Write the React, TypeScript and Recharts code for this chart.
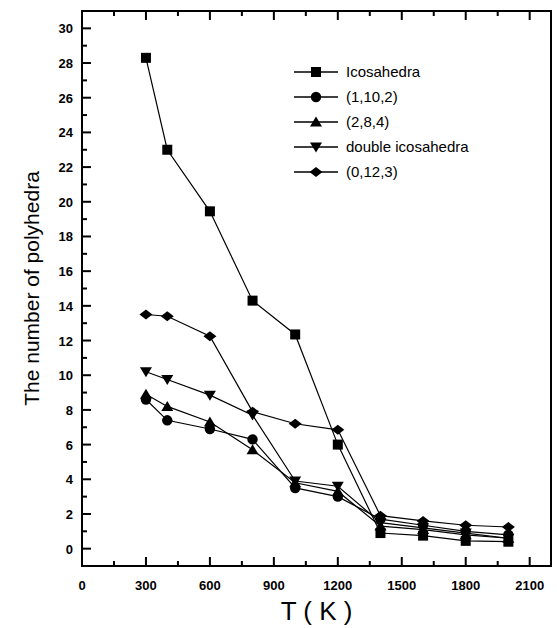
import React from "react";
import { LineChart, Line, XAxis, YAxis, Legend, ReferenceArea } from "recharts";

// temperature (K) and polyhedra counts
const temps = [300, 400, 600, 800, 1000, 1200, 1400, 1600, 1800, 2000];
const icosahedra = [28.3, 23.0, 19.45, 14.3, 12.35, 6.0, 0.9, 0.75, 0.45, 0.4];
const c1102 = [8.6, 7.4, 6.9, 6.3, 3.5, 3.0, 1.7, 1.35, 1.0, 0.8];
const c284 = [8.9, 8.2, 7.3, 5.7, 3.8, 3.3, 1.3, 1.1, 0.8, 0.6];
const doubleIco = [10.2, 9.75, 8.85, 7.7, 3.9, 3.6, 1.5, 1.2, 0.9, 0.6];
const c0123 = [13.5, 13.4, 12.25, 7.9, 7.2, 6.85, 1.9, 1.6, 1.35, 1.25];

const xTicks = [0, 150, 300, 450, 600, 750, 900, 1050, 1200, 1350, 1500, 1650, 1800, 1950, 2100];
const yTicks = Array.from({ length: 31 }, (_, i) => i);

const data = temps.map((t, i) => ({
  T: t,
  ico: icosahedra[i],
  a: c1102[i],
  b: c284[i],
  dbl: doubleIco[i],
  c: c0123[i],
}));

const FONT = '"Liberation Sans", Arial, sans-serif';

// the chart is drawn at half size and scaled up 2x as a whole
type Shape = "square" | "circle" | "up" | "down" | "diamond";

function Marker({ cx, cy, shape }: { cx: number; cy: number; shape: Shape }) {
  if (cx == null || cy == null) return null;
  if (shape === "square") return <rect x={cx - 2.5} y={cy - 2.5} width={5} height={5} fill="#000" />;
  if (shape === "circle") return <circle cx={cx} cy={cy} r={2.6} fill="#000" />;
  if (shape === "up")
    return <polygon points={`${cx - 3},${cy + 2.25} ${cx + 3},${cy + 2.25} ${cx},${cy - 2.75}`} fill="#000" />;
  if (shape === "down")
    return <polygon points={`${cx - 3},${cy - 2.25} ${cx + 3},${cy - 2.25} ${cx},${cy + 2.75}`} fill="#000" />;
  return <polygon points={`${cx - 3.25},${cy} ${cx},${cy - 2.5} ${cx + 3.25},${cy} ${cx},${cy + 2.5}`} fill="#000" />;
}

const dotFor = (shape: Shape) => (p: any) => <Marker key={p.index} cx={p.cx} cy={p.cy} shape={shape} />;

const series: { key: string; name: string; shape: Shape }[] = [
  { key: "ico", name: "Icosahedra", shape: "square" },
  { key: "a", name: "(1,10,2)", shape: "circle" },
  { key: "b", name: "(2,8,4)", shape: "up" },
  { key: "dbl", name: "double icosahedra", shape: "down" },
  { key: "c", name: "(0,12,3)", shape: "diamond" },
];

const bottomTick = (p: any) => {
  const major = p.payload.value % 300 === 0;
  return (
    <g key={p.index}>
      <line x1={p.x} y1={p.y} x2={p.x} y2={p.y - (major ? 4.5 : 2.5)} stroke="#000" strokeWidth={1} />
      {major && (
        <text x={p.x} y={p.y + 12} textAnchor="middle" fontSize={6.5} fontWeight="bold" fontFamily={FONT} fill="#000">
          {p.payload.value}
        </text>
      )}
    </g>
  );
};

const topTick = (p: any) => {
  const major = p.payload.value % 300 === 0;
  return (
    <g key={p.index}>
      <line x1={p.x} y1={p.y} x2={p.x} y2={p.y + (major ? 4.5 : 2.5)} stroke="#000" strokeWidth={1} />
    </g>
  );
};

const leftTick = (p: any) => {
  const major = p.payload.value % 2 === 0;
  return (
    <g key={p.index}>
      <line x1={p.x} y1={p.y} x2={p.x + (major ? 4.5 : 2.5)} y2={p.y} stroke="#000" strokeWidth={1} />
      {major && (
        <text x={p.x - 4.5} y={p.y + 2.5} textAnchor="end" fontSize={6.5} fontWeight="bold" fontFamily={FONT} fill="#000">
          {p.payload.value}
        </text>
      )}
    </g>
  );
};

function LegendBox() {
  return (
    <svg width={105} height={65}>
      {series.map((s, i) => {
        const y = 4 + i * 12.5;
        return (
          <g key={s.key}>
            <line x1={0} y1={y} x2={22} y2={y} stroke="#000" strokeWidth={0.65} />
            <Marker cx={11} cy={y} shape={s.shape} />
            <text x={26} y={y + 2.5} fontSize={7.5} fontFamily={FONT} fill="#000">
              {s.name}
            </text>
          </g>
        );
      })}
    </svg>
  );
}

export default function App() {
  return (
    <div
      style={{
        position: "absolute",
        left: 0,
        top: 0,
        width: 278.5,
        height: 314,
        transform: "scale(2)",
        transformOrigin: "0 0",
        fontFamily: FONT,
      }}
    >
      <LineChart width={278.5} height={314} data={data} margin={{ top: 4.5, right: 2, bottom: 0, left: 0 }}>
        <XAxis
          dataKey="T"
          type="number"
          domain={[0, 2200]}
          ticks={xTicks}
          interval={0}
          height={31}
          tickSize={0}
          tickMargin={0}
          tick={bottomTick}
          axisLine={{ stroke: "#000", strokeWidth: 1 }}
          label={{ value: "T ( K )", position: "insideBottom", offset: 4, fontSize: 13, fill: "#000", fontFamily: FONT }}
        />
        <XAxis
          xAxisId="top"
          orientation="top"
          dataKey="T"
          type="number"
          domain={[0, 2200]}
          ticks={xTicks}
          interval={0}
          height={1}
          tickSize={0}
          tickMargin={0}
          tick={topTick}
          axisLine={{ stroke: "#000", strokeWidth: 1 }}
        />
        <YAxis
          type="number"
          domain={[-1, 31]}
          ticks={yTicks}
          interval={0}
          width={41}
          tickSize={0}
          tickMargin={0}
          tick={leftTick}
          axisLine={{ stroke: "#000", strokeWidth: 1 }}
          label={{
            value: "The number of polyhedra",
            angle: -90,
            position: "center",
            dx: -4.5,
            fontSize: 10.5,
            fill: "#000",
            fontFamily: FONT,
          }}
        />
        <YAxis
          yAxisId="right"
          orientation="right"
          type="number"
          domain={[-1, 31]}
          width={1}
          tick={false}
          tickLine={false}
          axisLine={{ stroke: "#000", strokeWidth: 1 }}
        />
        <ReferenceArea
          x1={0}
          x2={2200}
          y1={-1}
          y2={31}
          fill="none"
          stroke="#000"
          strokeWidth={1}
          ifOverflow="visible"
        />
        <Legend
          layout="vertical"
          align="center"
          verticalAlign="middle"
          content={LegendBox}
          wrapperStyle={{ left: 146.5, top: 31.5, width: 105, height: 65 }}
        />
        {series.map((s) => (
          <Line
            key={s.key}
            dataKey={s.key}
            name={s.name}
            stroke="#000"
            strokeWidth={0.6}
            dot={dotFor(s.shape)}
            activeDot={false}
            isAnimationActive={false}
          />
        ))}
      </LineChart>
    </div>
  );
}
